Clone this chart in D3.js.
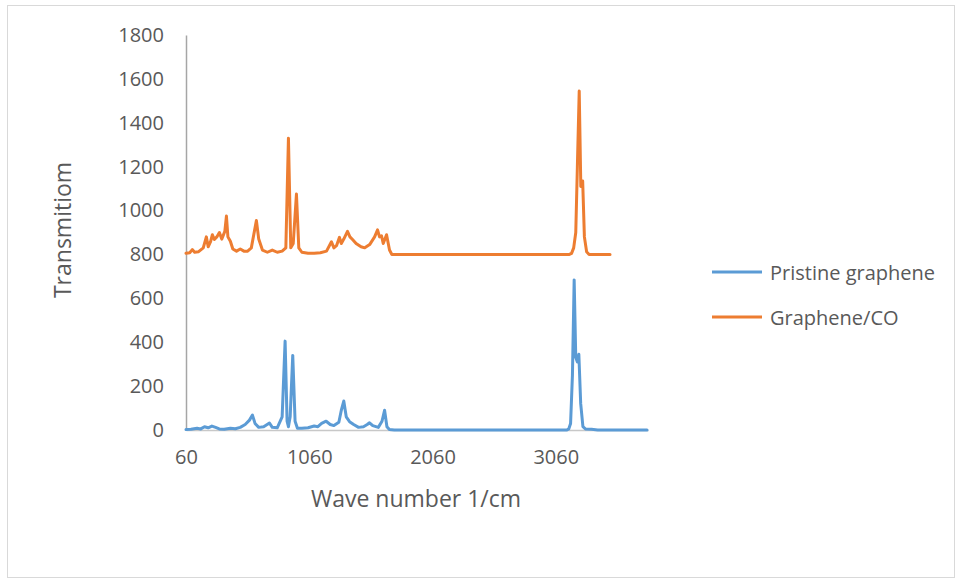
<!DOCTYPE html>
<html>
<head>
<meta charset="utf-8">
<script src="https://cdn.jsdelivr.net/npm/d3@7"></script>
<style>
  html, body { margin: 0; padding: 0; background: #fff; }
  svg text { font-family: "Open Sans", "Noto Sans", sans-serif; fill: #595959; }
</style>
</head>
<body>
<svg id="chart" width="958" height="581"></svg>
<script>
// ---- data ----
const seriesNames = ["Pristine graphene", "Graphene/CO"];
const seriesColors = ["#5B9BD5", "#ED7D31"];
const yTicks = [0, 200, 400, 600, 800, 1000, 1200, 1400, 1600, 1800];
const xTicks = [60, 1060, 2060, 3060];
const xLabel = "Wave number 1/cm";
const yLabel = "Transmitiom";

// Pristine graphene: [wave number, value]
const pristine = [
  [60,2],[100,3],[150,8],[180,5],[210,15],[240,10],[270,18],[300,12],[330,5],[370,3],
  [420,8],[460,6],[500,12],[540,25],[575,45],[599,68],[620,30],[650,12],[690,15],[737,32],
  [760,12],[800,10],[840,60],[864,405],[880,40],[891,15],[905,60],[926,340],[945,40],[964,8],
  [1000,8],[1050,10],[1100,18],[1130,15],[1160,30],[1197,40],[1230,25],[1260,20],[1300,35],
  [1320,90],[1340,132],[1360,60],[1387,38],[1420,25],[1460,12],[1500,15],[1530,25],[1549,33],
  [1575,20],[1620,12],[1650,40],[1671,90],[1690,15],[1710,2],[1750,0],[3150,0],[3165,5],
  [3180,30],[3195,250],[3209,684],[3222,330],[3235,310],[3247,345],[3262,120],[3280,15],
  [3300,5],[3350,3],[3400,0],[3800,0]
];

// Graphene/CO: [wave number, value]
const grapheneCO = [
  [60,805],[90,808],[111,822],[130,810],[160,812],[200,830],[225,880],[240,835],[260,860],
  [274,890],[290,868],[310,880],[331,900],[350,870],[375,905],[388,975],[400,880],[420,860],
  [440,825],[470,815],[500,825],[530,815],[560,815],[590,830],[631,955],[650,870],[680,820],
  [720,810],[760,820],[800,810],[840,815],[870,830],[891,1330],[910,830],[930,850],[956,1075],
  [975,830],[1000,810],[1050,805],[1100,805],[1150,808],[1200,815],[1240,858],[1260,830],
  [1281,840],[1305,878],[1320,850],[1340,870],[1370,905],[1390,880],[1411,868],[1440,850],
  [1480,835],[1510,830],[1550,845],[1590,880],[1614,912],[1630,880],[1646,885],[1660,850],
  [1687,890],[1711,820],[1730,800],[3170,800],[3188,805],[3205,830],[3222,900],[3235,1200],
  [3250,1545],[3263,1110],[3278,1135],[3292,880],[3310,812],[3330,800],[3500,800]
];

const allSeries = [pristine, grapheneCO];

// ---- drawing ----
const svg = d3.select("#chart");

svg.append("rect")
  .attr("x", 7.5).attr("y", 5.5).attr("width", 947).attr("height", 572)
  .attr("fill", "#fff").attr("stroke", "#D9D9D9").attr("stroke-width", 1);

const x = d3.scaleLinear().domain([60, 3808]).range([186, 648]);
const y = d3.scaleLinear().domain([0, 1800]).range([430, 35]);

// x axis
const xAxis = svg.append("g").attr("transform", `translate(0,${y(0)})`)
  .call(d3.axisBottom(x).tickValues(xTicks).tickFormat(d3.format("d")).tickSize(0).tickPadding(20));
xAxis.select(".domain").attr("stroke", "#C8C8C8").attr("stroke-width", 1.5);
xAxis.selectAll("text").attr("font-size", 20).attr("fill", "#595959").style("font-family", "Open Sans");

// y axis
const yAxis = svg.append("g").attr("transform", `translate(${x(60)},0)`)
  .call(d3.axisLeft(y).tickValues(yTicks).tickFormat(d3.format("d")).tickSize(0).tickPadding(22));
yAxis.select(".domain").attr("stroke", "#A6A6A6").attr("stroke-width", 1.5);
yAxis.selectAll("text").attr("font-size", 20).attr("fill", "#595959").style("font-family", "Open Sans");

// lines
const line = d3.line().x(d => x(d[0])).y(d => y(d[1]));
allSeries.forEach((s, i) => {
  svg.append("path").datum(s)
    .attr("fill", "none")
    .attr("stroke", seriesColors[i])
    .attr("stroke-width", 3)
    .attr("stroke-linejoin", "round")
    .attr("stroke-linecap", "round")
    .attr("d", line);
});

// axis titles
svg.append("text")
  .attr("x", 416).attr("y", 498)
  .attr("text-anchor", "middle").attr("dominant-baseline", "central")
  .attr("font-size", 23).text(xLabel);

svg.append("text")
  .attr("transform", "translate(62,230) rotate(-90)")
  .attr("text-anchor", "middle").attr("dominant-baseline", "central")
  .attr("font-size", 23).text(yLabel);

// legend
const legendY = [272, 317];
seriesNames.forEach((name, i) => {
  svg.append("line")
    .attr("x1", 712).attr("x2", 762)
    .attr("y1", legendY[i]).attr("y2", legendY[i])
    .attr("stroke", seriesColors[i]).attr("stroke-width", 3);
  svg.append("text")
    .attr("x", 770).attr("y", legendY[i])
    .attr("dominant-baseline", "central")
    .attr("font-size", 20).text(name);
});
</script>
</body>
</html>
